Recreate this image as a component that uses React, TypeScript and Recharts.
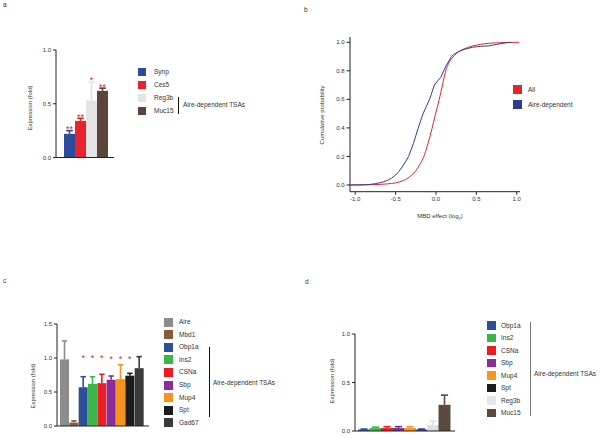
import { Bar, BarChart, Line, LineChart, XAxis, YAxis } from "recharts";

// panel a
const aGenes = ["Synp", "Ces5", "Reg3b", "Muc15"];
const aValues = [0.22, 0.34, 0.53, 0.62];
const aErrors = [0.03, 0.025, 0.17, 0.025];
const aStars = ["**", "**", "*", "**"];
const aStarLevels = [0.28, 0.4, 0.736, 0.674];
const aColors = ["#2d4a9c", "#e8232b", "#e4e4e4", "#5a4538"];
const aTicks = [0, 0.5, 1];

// panel b
const allX = [-1.06, -0.8, -0.6, -0.5, -0.4, -0.3, -0.25, -0.2, -0.15, -0.11, -0.07, -0.03, 0.0, 0.04, 0.08, 0.12, 0.16, 0.2, 0.25, 0.3, 0.4, 0.5, 0.6, 0.8, 1.03];
const allCdf = [0, 0.002, 0.008, 0.015, 0.032, 0.07, 0.1, 0.145, 0.2, 0.27, 0.35, 0.44, 0.51, 0.6, 0.7, 0.8, 0.855, 0.89, 0.92, 0.94, 0.965, 0.98, 0.99, 0.997, 1.0];
const aireX = [-1.06, -0.9, -0.8, -0.75, -0.7, -0.65, -0.6, -0.55, -0.5, -0.46, -0.42, -0.38, -0.34, -0.31, -0.28, -0.25, -0.22, -0.19, -0.16, -0.12, -0.08, -0.05, -0.02, 0.02, 0.06, 0.095, 0.13, 0.16, 0.19, 0.22, 0.28, 0.35, 0.45, 0.55, 0.65, 0.75, 0.85, 0.93];
const aireCdf = [0, 0.001, 0.005, 0.01, 0.015, 0.022, 0.033, 0.048, 0.07, 0.095, 0.125, 0.16, 0.2, 0.245, 0.29, 0.345, 0.4, 0.45, 0.5, 0.55, 0.6, 0.65, 0.7, 0.73, 0.755, 0.8, 0.84, 0.87, 0.9, 0.915, 0.935, 0.95, 0.965, 0.972, 0.975, 0.985, 0.995, 1.0];
const bXTicks = [-1, -0.5, 0, 0.5, 1];
const bYTicks = [0, 0.2, 0.4, 0.6, 0.8, 1];

// panel c
const cGenes = ["Aire", "Mbd1", "Obp1a", "Ins2", "CSNa", "Sbp", "Mup4", "Spt", "Gad67"];
const cValues = [0.98, 0.05, 0.57, 0.62, 0.63, 0.68, 0.69, 0.74, 0.85];
const cErrors = [0.27, 0.025, 0.155, 0.105, 0.13, 0.055, 0.21, 0.035, 0.17];
const cStars = ["", "", "*", "*", "*", "*", "*", "*", ""];
const cStarLevels = [0, 0, 1.03, 1.03, 1.03, 1.01, 1.01, 1.01, 0];
const cColors = ["#8c8c8c", "#8b5a3b", "#2b4f9a", "#3cb54a", "#ec1c24", "#8b2c9b", "#f7941d", "#1c1c1c", "#3a3a3a"];
const cTicks = [0, 0.5, 1, 1.5];

// panel d
const dGenes = ["Obp1a", "Ins2", "CSNa", "Sbp", "Mup4", "Spt", "Reg3b", "Muc15"];
const dValues = [0.015, 0.03, 0.03, 0.03, 0.03, 0.015, 0.06, 0.27];
const dErrors = [0.005, 0.01, 0.015, 0.015, 0.015, 0.005, 0.04, 0.1];
const dBarColors = ["#2b4f9a", "#3cb54a", "#ec1c24", "#7b2c8f", "#f7941d", "#2d3f94", "#e0e0e0", "#5b4a40"];
const dLegendColors = ["#2b4f9a", "#3cb54a", "#ec1c24", "#8b2c9b", "#f7941d", "#1c1c1c", "#e6e6e6", "#5b4a40"];
const dTicks = [0, 0.5, 1];

const FONT = '"Liberation Sans", Arial, sans-serif';
const AXIS = "#222";
const TEXT = "#333";

function rows(genes: string[], values: number[], errors: number[], colors: string[], stars?: string[], levels?: number[]) {
    return genes.map((gene, i) => ({
        gene,
        value: values[i],
        err: errors[i],
        color: colors[i],
        star: stars ? stars[i] : "",
        starLevel: levels ? levels[i] : 0,
    }));
}

// bar + upward error bar + significance stars, sized from the bar's own scale
function ErrorShape(props: any) {
    const { x, y, width, height, payload } = props;
    const k = payload.value > 0 ? height / payload.value : 0;
    const base = y + height;
    const top = y - payload.err * k;
    const cx = x + width / 2;
    const cap = width * 0.6;
    return (
        <g>
            <rect x={x} y={y} width={width} height={height} fill={payload.color} />
            <line x1={cx} x2={cx} y1={y} y2={top} stroke={payload.color} strokeWidth={1.6} />
            <line x1={cx - cap / 2} x2={cx + cap / 2} y1={top} y2={top} stroke={payload.color} strokeWidth={1.6} />
            {payload.star ? (
                <text x={cx} y={base - payload.starLevel * k + 5} textAnchor="middle" fill="#e8232b" fontSize={9} fontFamily={FONT}>
                    {payload.star}
                </text>
            ) : null}
        </g>
    );
}

interface BarPanelProps {
    data: any[];
    left: number;
    top: number;
    width: number;
    height: number;
    margin: { top: number; right: number; bottom: number; left: number };
    ticks: number[];
    padding: { left: number; right: number };
}

function BarPanel({ data, left, top, width, height, margin, ticks, padding }: BarPanelProps) {
    return (
        <div style={{ position: "absolute", left, top }}>
            <BarChart width={width} height={height} data={data} margin={margin} barCategoryGap={0}>
                <XAxis dataKey="gene" tick={false} tickLine={false} axisLine={{ stroke: AXIS }} height={5} padding={padding} />
                <YAxis
                    type="number"
                    domain={[ticks[0], ticks[ticks.length - 1]]}
                    ticks={ticks}
                    interval={0}
                    width={20}
                    tickSize={3}
                    tickFormatter={(v: number) => v.toFixed(1)}
                    axisLine={{ stroke: AXIS }}
                    tickLine={{ stroke: AXIS }}
                    tick={{ fontSize: 6, fill: TEXT, fontFamily: FONT }}
                />
                <Bar dataKey="value" isAnimationActive={false} shape={ErrorShape} />
            </BarChart>
        </div>
    );
}

function Text({ x, y, children, size = 6.5, color = TEXT }: any) {
    return (
        <div style={{ position: "absolute", left: x, top: y - 5, height: 10, lineHeight: "10px", fontSize: size, color, whiteSpace: "nowrap" }}>
            {children}
        </div>
    );
}

function VText({ x, y, children }: any) {
    return (
        <div
            style={{
                position: "absolute",
                left: x,
                top: y,
                transform: "translate(-50%, -50%) rotate(-90deg)",
                fontSize: 6,
                color: TEXT,
                whiteSpace: "nowrap",
            }}
        >
            {children}
        </div>
    );
}

function SideLegend({ labels, colors, x, y0, step, size, textX }: any) {
    return (
        <>
            {labels.map((label: string, i: number) => (
                <div key={label + i}>
                    <div
                        style={{
                            position: "absolute",
                            left: x,
                            top: y0 + i * step - size / 2,
                            width: size,
                            height: size,
                            background: colors[i],
                        }}
                    />
                    <Text x={textX} y={y0 + i * step}>
                        {label}
                    </Text>
                </div>
            ))}
        </>
    );
}

function Bracket({ x, y1, y2, color = "#111" }: any) {
    return <div style={{ position: "absolute", left: x, top: y1, width: 1, height: y2 - y1, background: color }} />;
}

export default function App() {
    const aData = rows(aGenes, aValues, aErrors, aColors, aStars, aStarLevels);
    const cData = rows(cGenes, cValues, cErrors, cColors, cStars, cStarLevels);
    const dData = rows(dGenes, dValues, dErrors, dBarColors);
    const allData = allX.map((x, i) => ({ x, y: allCdf[i] }));
    const aireData = aireX.map((x, i) => ({ x, y: aireCdf[i] }));

    return (
        <div style={{ position: "fixed", left: 0, top: 0, width: 600, height: 438, background: "#fff", fontFamily: FONT }}>
            {/* a */}
            <Text x={3} y={5}>a</Text>
            <BarPanel
                data={aData}
                left={0}
                top={0}
                width={290}
                height={210}
                margin={{ top: 50, right: 176, bottom: 47.5, left: 36 }}
                ticks={aTicks}
                padding={{ left: 8, right: 6 }}
            />
            <VText x={30} y={108}>Expression (fold)</VText>
            <SideLegend labels={aGenes} colors={aColors} x={138} y0={72} step={13} size={8} textX={154} />
            <Bracket x={178} y1={97} y2={114} />
            <Text x={183} y={105}>Aire-dependent TSAs</Text>

            {/* b */}
            <Text x={304} y={10}>b</Text>
            <div style={{ position: "absolute", left: 290, top: 0 }}>
                <LineChart width={310} height={225} margin={{ top: 37, right: 80, bottom: 13.3, left: 35 }}>
                    <XAxis
                        type="number"
                        dataKey="x"
                        domain={[-1.065, 1.04]}
                        allowDataOverflow
                        ticks={bXTicks}
                        interval={0}
                        height={20}
                        tickSize={3}
                        tickFormatter={(v: number) => v.toFixed(1)}
                        axisLine={{ stroke: AXIS }}
                        tickLine={{ stroke: AXIS }}
                        tick={{ fontSize: 6, fill: TEXT, fontFamily: FONT }}
                    />
                    <YAxis
                        type="number"
                        domain={[-0.047, 1.037]}
                        allowDataOverflow
                        ticks={bYTicks}
                        interval={0}
                        width={25}
                        tickSize={3.5}
                        tickFormatter={(v: number) => v.toFixed(1)}
                        axisLine={{ stroke: AXIS }}
                        tickLine={{ stroke: AXIS }}
                        tick={{ fontSize: 6, fill: TEXT, fontFamily: FONT }}
                    />
                    <Line data={allData} dataKey="y" type="monotone" stroke="#e4232b" strokeWidth={1} dot={false} isAnimationActive={false} />
                    <Line data={aireData} dataKey="y" type="linear" stroke="#2e3d8f" strokeWidth={1} dot={false} isAnimationActive={false} />
                </LineChart>
            </div>
            <VText x={322} y={115}>Cumulative probability</VText>
            <div style={{ position: "absolute", left: 440, top: 217, transform: "translate(-50%, -50%)", fontSize: 6, color: TEXT, whiteSpace: "nowrap" }}>
                MBD effect (log<sub style={{ fontSize: 4 }}>2</sub>)
            </div>
            <SideLegend labels={["All", "Aire-dependent"]} colors={["#e4232b", "#2e3d8f"]} x={513} y0={89.7} step={15} size={9} textX={528} />

            {/* c */}
            <Text x={3} y={281}>c</Text>
            <BarPanel
                data={cData}
                left={0}
                top={225}
                width={300}
                height={213}
                margin={{ top: 99, right: 151, bottom: 7, left: 37 }}
                ticks={cTicks}
                padding={{ left: 3, right: 5 }}
            />
            <VText x={33} y={386}>Expression (fold)</VText>
            <SideLegend labels={cGenes} colors={cColors} x={164} y0={322} step={12.6} size={9} textX={179} />
            <Bracket x={209} y1={347} y2={417} />
            <Text x={213} y={383}>Aire-dependent TSAs</Text>

            {/* d */}
            <Text x={305} y={282}>d</Text>
            <BarPanel
                data={dData}
                left={300}
                top={225}
                width={300}
                height={213}
                margin={{ top: 109, right: 145, bottom: 2, left: 35 }}
                ticks={dTicks}
                padding={{ left: 3, right: 5 }}
            />
            <VText x={332} y={381}>Expression (fold)</VText>
            <SideLegend labels={dGenes} colors={dLegendColors} x={487} y0={325.5} step={12.5} size={8.5} textX={501} />
            <Bracket x={530} y1={322} y2={416} color="#777" />
            <Text x={534} y={374}>Aire-dependent TSAs</Text>
        </div>
    );
}
